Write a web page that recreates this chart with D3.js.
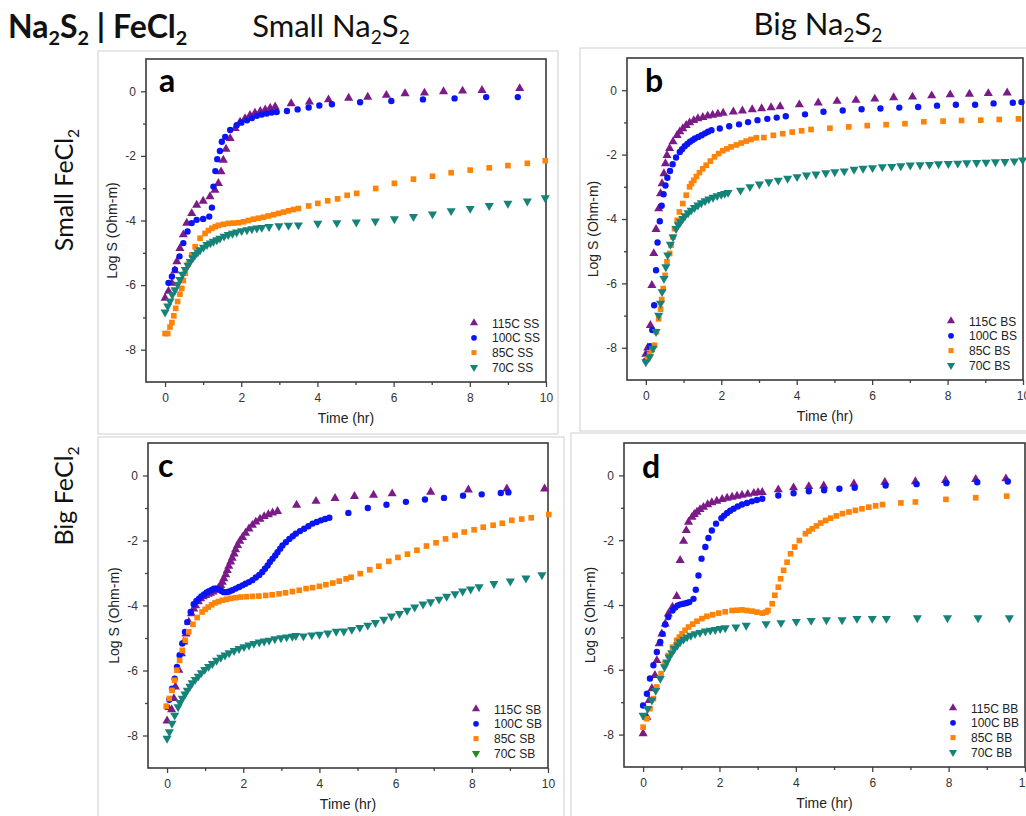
<!DOCTYPE html>
<html>
<head>
<meta charset="utf-8">
<script src="https://cdn.jsdelivr.net/npm/d3@7"></script>
<style>
  body { margin: 0; background: #fff; }
  svg { display: block; }
  .tick text { font-family: "Liberation Sans", Arial, sans-serif; font-size: 12px; fill: #333; }
  .tick line { stroke: #444; }
</style>
</head>
<body>
<div id="figure"></div>
<script>
// axis ticks
const timeTicks = [0, 2, 4, 6, 8, 10];
const timeMinor = [1, 3, 5, 7, 9];
const logTicks = [0, -2, -4, -6, -8];
const logMinor = [-1, -3, -5, -7];
const temps = ["115C", "100C", "85C", "70C"];

// a: small FeCl2 / small Na2S2  (time hr, log S)
const ss115 = [[0,-6.4],[0.09,-6.19],[0.18,-5.94],[0.26,-5.55],[0.31,-5.27],[0.39,-4.86],[0.48,-4.44],[0.57,-4.08],[0.7,-3.78],[0.83,-3.52],[1.0,-3.4],[1.18,-3.26],[1.31,-3.06],[1.4,-2.85],[1.47,-2.49],[1.53,-2.13],[1.6,-1.79],[1.71,-1.46],[1.84,-1.15],[1.97,-0.95],[2.1,-0.84],[2.23,-0.74],[2.36,-0.67],[2.5,-0.62],[2.63,-0.57],[2.76,-0.52],[2.89,-0.48],
  [3.31,-0.38],[3.79,-0.33],[4.29,-0.26],[4.82,-0.21],[5.32,-0.18],[5.81,-0.12],[6.3,-0.07],[6.81,-0.05],[7.31,-0.01],[7.81,0.01],[8.32,0.03],[9.31,0.09]];
const ss100 = [[0.09,-5.93],[0.18,-5.73],[0.26,-5.52],[0.38,-5.11],[0.48,-4.7],[0.59,-4.34],[0.7,-4.08],[0.83,-3.98],[1.0,-3.95],[1.16,-3.88],[1.23,-3.6],[1.27,-2.95],[1.32,-2.47],[1.37,-2.1],[1.44,-1.85],[1.49,-1.56],[1.58,-1.41],[1.71,-1.2],[1.88,-1.05],[2.0,-0.97],[2.15,-0.9],[2.28,-0.83],[2.41,-0.76],[2.54,-0.72],[2.67,-0.69],[2.8,-0.66],[2.93,-0.64],
  [3.2,-0.61],[3.48,-0.56],[3.77,-0.5],[4.05,-0.44],[4.38,-0.4],[5.12,-0.34],[5.94,-0.3],[6.77,-0.25],[7.6,-0.22],[8.43,-0.18],[9.26,-0.18]];
const ss85 = [[0,-7.5],[0.07,-7.5],[0.13,-7.3],[0.18,-7.16],[0.23,-6.95],[0.28,-6.72],[0.33,-6.51],[0.39,-6.28],[0.44,-6.1],[0.48,-5.86],[0.53,-5.63],[0.61,-5.35],[0.7,-5.07],[0.79,-4.81],[0.92,-4.55],[1.05,-4.4],[1.14,-4.31],[1.23,-4.24],[1.32,-4.19],[1.4,-4.15],[1.53,-4.12],[1.66,-4.09],[1.79,-4.08],[1.93,-4.07],[2.06,-4.04],[2.19,-4.0],[2.32,-3.96],[2.45,-3.93],[2.58,-3.9],[2.71,-3.86],[2.85,-3.82],[2.98,-3.78],[3.11,-3.74],[3.24,-3.7],[3.37,-3.66],[3.5,-3.63],
  [3.77,-3.55],[4.01,-3.47],[4.27,-3.39],[4.53,-3.33],[4.78,-3.22],[5.03,-3.16],[5.53,-3.01],[6.02,-2.85],[6.52,-2.72],[7.02,-2.63],[7.51,-2.52],[8.01,-2.44],[8.51,-2.37],[9.0,-2.3],[9.51,-2.23],[9.98,-2.15]];
const ss70 = [[0,-6.84],[0.07,-6.65],[0.13,-6.5],[0.19,-6.3],[0.26,-6.15],[0.33,-5.98],[0.39,-5.83],[0.46,-5.67],[0.53,-5.52],[0.6,-5.39],[0.66,-5.27],[0.73,-5.16],[0.79,-5.06],[0.86,-4.98],[0.92,-4.91],[1.01,-4.83],[1.1,-4.75],[1.19,-4.7],[1.27,-4.65],[1.36,-4.6],[1.44,-4.55],[1.55,-4.49],[1.66,-4.44],[1.77,-4.4],[1.88,-4.36],[2.01,-4.32],[2.15,-4.29],[2.28,-4.26],[2.41,-4.24],[2.54,-4.22],
  [2.73,-4.19],[2.99,-4.17],[3.24,-4.15],[3.5,-4.14],[4.01,-4.09],[4.51,-4.07],[5.02,-4.05],[5.52,-4.02],[6.02,-3.95],[6.52,-3.88],[7.02,-3.8],[7.51,-3.7],[8.01,-3.63],[8.51,-3.54],[9.0,-3.47],[9.51,-3.4],[9.98,-3.3]];

// b: small FeCl2 / big Na2S2
const bs115 = [[0,-8.2],[0.05,-8.0],[0.12,-7.3],[0.16,-6.06],[0.21,-5.07],[0.27,-4.32],[0.34,-3.68],[0.39,-3.21],[0.43,-2.9],[0.48,-2.59],[0.52,-2.28],[0.56,-2.02],[0.63,-1.81],[0.72,-1.6],[0.83,-1.4],[0.9,-1.29],[0.98,-1.19],[1.07,-1.09],[1.16,-1.01],[1.27,-0.94],[1.38,-0.88],[1.51,-0.84],[1.64,-0.8],[1.77,-0.77],[1.91,-0.74],[2.05,-0.71],
  [2.32,-0.67],[2.56,-0.64],[2.82,-0.6],[3.07,-0.57],[3.32,-0.54],[3.56,-0.51],[4.07,-0.45],[4.57,-0.39],[5.07,-0.34],[5.57,-0.31],[6.07,-0.27],[6.57,-0.23],[7.07,-0.21],[7.58,-0.17],[8.07,-0.14],[8.58,-0.12],[9.08,-0.1],[9.58,-0.08]];
const bs100 = [[0,-8.4],[0.06,-8.2],[0.11,-7.95],[0.17,-7.45],[0.22,-6.68],[0.27,-5.59],[0.31,-4.73],[0.37,-4.07],[0.42,-3.59],[0.47,-3.23],[0.52,-2.96],[0.57,-2.72],[0.64,-2.51],[0.71,-2.3],[0.8,-2.09],[0.9,-1.92],[0.96,-1.83],[1.03,-1.74],[1.1,-1.67],[1.17,-1.6],[1.24,-1.55],[1.3,-1.5],[1.39,-1.45],[1.48,-1.4],[1.57,-1.34],[1.65,-1.29],[1.74,-1.24],
  [1.96,-1.19],[2.21,-1.12],[2.47,-1.06],[2.71,-0.99],[2.96,-0.93],[3.22,-0.89],[3.47,-0.85],[3.71,-0.81],[4.22,-0.75],[4.71,-0.67],[5.22,-0.63],[5.72,-0.59],[6.22,-0.57],[6.72,-0.54],[7.22,-0.52],[7.72,-0.48],[8.22,-0.45],[8.73,-0.45],[9.22,-0.41],[9.73,-0.39],[9.96,-0.37]];
const bs85 = [[0.04,-8.35],[0.1,-8.2],[0.17,-8.05],[0.23,-7.92],[0.28,-7.5],[0.34,-7.1],[0.39,-6.8],[0.42,-6.5],[0.46,-6.16],[0.51,-5.75],[0.56,-5.33],[0.63,-5.07],[0.67,-4.81],[0.72,-4.56],[0.76,-4.3],[0.83,-4.04],[0.89,-3.78],[0.98,-3.52],[1.07,-3.26],[1.16,-3.0],[1.21,-2.9],[1.27,-2.8],[1.34,-2.68],[1.42,-2.56],[1.51,-2.44],[1.6,-2.33],[1.71,-2.2],[1.82,-2.07],[1.93,-1.97],[2.04,-1.88],[2.15,-1.82],[2.26,-1.76],[2.4,-1.7],[2.53,-1.64],[2.66,-1.58],[2.79,-1.53],[2.93,-1.48],
  [3.13,-1.47],[3.38,-1.4],[3.63,-1.35],[3.88,-1.3],[4.13,-1.26],[4.38,-1.22],[4.88,-1.18],[5.38,-1.14],[5.87,-1.1],[6.37,-1.07],[6.87,-1.04],[7.37,-0.98],[7.88,-0.96],[8.37,-0.94],[8.88,-0.93],[9.37,-0.91],[9.88,-0.89]];
const bs70 = [[0,-8.44],[0.1,-8.28],[0.19,-8.02],[0.27,-7.5],[0.34,-6.99],[0.39,-6.62],[0.43,-6.26],[0.48,-5.85],[0.53,-5.49],[0.58,-5.12],[0.65,-4.79],[0.72,-4.56],[0.8,-4.3],[0.86,-4.18],[0.92,-4.09],[0.98,-3.99],[1.04,-3.9],[1.12,-3.81],[1.2,-3.73],[1.29,-3.65],[1.38,-3.57],[1.47,-3.5],[1.57,-3.44],[1.67,-3.38],[1.78,-3.33],[1.89,-3.28],[2.0,-3.24],[2.09,-3.21],[2.18,-3.18],
  [2.51,-3.11],[2.76,-3.0],[3.01,-2.92],[3.26,-2.85],[3.51,-2.8],[3.76,-2.74],[4.01,-2.69],[4.26,-2.64],[4.51,-2.61],[4.77,-2.57],[5.01,-2.54],[5.26,-2.51],[5.52,-2.46],[5.76,-2.43],[6.01,-2.41],[6.27,-2.38],[6.52,-2.37],[6.76,-2.35],[7.01,-2.33],[7.27,-2.32],[7.52,-2.31],[7.76,-2.29],[8.02,-2.28],[8.27,-2.27],[8.51,-2.26],[8.77,-2.25],[9.02,-2.24],[9.27,-2.23],[9.52,-2.22],[9.77,-2.2],[9.99,-2.17]];

// c: big FeCl2 / small Na2S2
const sb115 = [[0,-7.55],[0.12,-7.2],[0.18,-6.86],[0.22,-6.5],[0.31,-5.99],[0.38,-5.48],[0.44,-5.12],[0.5,-4.87],[0.57,-4.51],[0.64,-4.25],[0.7,-4.1],[0.75,-4.0],[0.82,-3.88],[0.88,-3.79],[0.95,-3.73],[1.01,-3.69],[1.08,-3.65],[1.14,-3.62],[1.21,-3.58],[1.28,-3.53],[1.35,-3.46],[1.41,-3.38],[1.45,-3.28],[1.49,-3.17],[1.54,-3.05],[1.58,-2.92],[1.62,-2.79],[1.67,-2.66],[1.71,-2.54],[1.76,-2.41],[1.8,-2.28],[1.85,-2.15],[1.91,-2.02],[1.98,-1.9],[2.06,-1.77],[2.15,-1.64],[2.24,-1.53],[2.33,-1.43],[2.44,-1.34],[2.55,-1.26],[2.66,-1.2],[2.77,-1.15],[2.9,-1.1],
  [3.4,-0.91],[3.91,-0.79],[4.41,-0.7],[4.92,-0.64],[5.42,-0.6],[5.91,-0.56],[6.92,-0.51],[7.91,-0.44],[8.92,-0.41],[9.91,-0.41]];
const sb100 = [[0,-7.12],[0.06,-6.9],[0.13,-6.56],[0.2,-6.25],[0.26,-5.89],[0.33,-5.53],[0.4,-5.17],[0.47,-4.81],[0.53,-4.51],[0.62,-4.2],[0.7,-3.96],[0.77,-3.86],[0.84,-3.79],[0.9,-3.72],[0.97,-3.66],[1.04,-3.6],[1.1,-3.56],[1.17,-3.52],[1.23,-3.48],[1.3,-3.48],[1.36,-3.51],[1.43,-3.55],[1.49,-3.59],[1.56,-3.59],[1.63,-3.57],[1.71,-3.53],[1.8,-3.48],[1.89,-3.43],[1.98,-3.38],[2.06,-3.33],[2.15,-3.28],[2.24,-3.22],[2.33,-3.14],[2.42,-3.06],[2.5,-2.97],[2.57,-2.87],[2.64,-2.77],[2.7,-2.66],[2.77,-2.56],[2.84,-2.46],[2.9,-2.36],[2.97,-2.25],[3.03,-2.15],[3.12,-2.05],[3.21,-1.95],[3.3,-1.87],[3.38,-1.79],[3.49,-1.71],[3.6,-1.64],[3.71,-1.56],[3.82,-1.48],[3.93,-1.43],[4.04,-1.38],[4.15,-1.34],[4.26,-1.3],
  [4.76,-1.15],[5.27,-1.0],[5.76,-0.9],[6.27,-0.81],[6.77,-0.74],[7.27,-0.69],[7.77,-0.62],[8.26,-0.58],[8.76,-0.54],[8.96,-0.52]];
const sb85 = [[-0.02,-7.1],[0.06,-6.86],[0.13,-6.61],[0.2,-6.3],[0.26,-5.99],[0.33,-5.69],[0.4,-5.38],[0.48,-5.07],[0.57,-4.81],[0.68,-4.58],[0.79,-4.37],[0.92,-4.2],[1.0,-4.12],[1.08,-4.05],[1.17,-3.98],[1.26,-3.92],[1.35,-3.88],[1.45,-3.84],[1.56,-3.81],[1.67,-3.78],[1.8,-3.76],[1.93,-3.74],[2.08,-3.73],[2.24,-3.72],[2.41,-3.71],[2.59,-3.69],[2.76,-3.67],[2.94,-3.64],[3.11,-3.61],[3.29,-3.57],[3.47,-3.53],[3.65,-3.48],[3.82,-3.45],[4.0,-3.41],[4.17,-3.36],[4.35,-3.31],[4.52,-3.25],[4.7,-3.18],[4.83,-3.13],
  [5.07,-3.02],[5.32,-2.9],[5.56,-2.79],[5.82,-2.64],[6.06,-2.52],[6.31,-2.42],[6.56,-2.3],[6.81,-2.17],[7.06,-2.07],[7.31,-1.95],[7.56,-1.84],[7.8,-1.74],[8.06,-1.67],[8.3,-1.59],[8.56,-1.53],[8.8,-1.47],[9.05,-1.38],[9.31,-1.34],[9.56,-1.3],[10.02,-1.2]];
const sb70 = [[0,-8.09],[0.06,-7.89],[0.13,-7.63],[0.2,-7.38],[0.29,-7.12],[0.34,-6.99],[0.4,-6.86],[0.47,-6.73],[0.53,-6.61],[0.6,-6.49],[0.66,-6.38],[0.74,-6.28],[0.82,-6.18],[0.9,-6.07],[0.99,-5.97],[1.09,-5.88],[1.19,-5.79],[1.3,-5.69],[1.41,-5.6],[1.52,-5.53],[1.63,-5.46],[1.76,-5.39],[1.89,-5.33],[2.02,-5.27],[2.15,-5.22],[2.28,-5.17],[2.42,-5.13],[2.55,-5.1],[2.68,-5.07],[2.83,-5.03],[2.99,-5.0],[3.14,-4.97],[3.29,-4.95],[3.38,-4.93],
  [3.58,-4.94],[3.8,-4.91],[4.0,-4.89],[4.22,-4.85],[4.44,-4.8],[4.64,-4.79],[4.85,-4.74],[5.06,-4.68],[5.27,-4.61],[5.47,-4.53],[5.69,-4.43],[5.89,-4.33],[6.1,-4.25],[6.3,-4.15],[6.5,-4.05],[6.72,-3.96],[6.92,-3.89],[7.14,-3.81],[7.34,-3.72],[7.56,-3.64],[7.76,-3.56],[7.97,-3.5],[8.19,-3.43],[8.58,-3.33],[9.01,-3.25],[9.42,-3.16],[9.84,-3.06]];

// d: big FeCl2 / big Na2S2
const bb115 = [[0,-7.97],[0.1,-7.46],[0.16,-6.94],[0.23,-6.58],[0.31,-6.17],[0.36,-5.71],[0.42,-5.19],[0.49,-4.89],[0.58,-4.58],[0.66,-4.27],[0.77,-4.06],[0.88,-3.73],[0.97,-2.62],[1.06,-2.03],[1.13,-1.7],[1.19,-1.44],[1.28,-1.29],[1.34,-1.2],[1.41,-1.13],[1.49,-1.05],[1.58,-0.98],[1.69,-0.9],[1.8,-0.84],[1.93,-0.79],[2.07,-0.74],[2.2,-0.7],[2.33,-0.67],[2.46,-0.64],[2.59,-0.61],[2.74,-0.58],[2.9,-0.55],[3.01,-0.53],[3.12,-0.52],
  [3.54,-0.44],[3.94,-0.38],[4.34,-0.34],[4.73,-0.32],[5.52,-0.26],[6.33,-0.21],[7.13,-0.19],[7.92,-0.15],[8.71,-0.12],[9.5,-0.1]];
const bb100 = [[0,-7.1],[0.1,-6.74],[0.18,-6.27],[0.27,-5.86],[0.36,-5.45],[0.45,-5.14],[0.51,-4.89],[0.58,-4.6],[0.66,-4.37],[0.77,-4.17],[0.84,-4.08],[0.91,-4.01],[0.98,-3.98],[1.06,-3.96],[1.14,-3.94],[1.21,-3.91],[1.32,-3.81],[1.38,-3.53],[1.45,-3.09],[1.53,-2.57],[1.63,-2.21],[1.71,-1.93],[1.8,-1.7],[1.91,-1.49],[2.05,-1.32],[2.12,-1.24],[2.2,-1.16],[2.28,-1.09],[2.37,-1.03],[2.48,-0.96],[2.59,-0.9],[2.72,-0.85],[2.85,-0.8],[2.98,-0.76],[3.12,-0.72],
  [3.54,-0.62],[3.94,-0.55],[4.34,-0.49],[4.74,-0.46],[5.14,-0.41],[5.54,-0.38],[6.35,-0.31],[7.16,-0.27],[7.94,-0.24],[8.75,-0.21],[9.55,-0.19]];
const bb85 = [[0,-7.77],[0.1,-7.51],[0.18,-7.2],[0.27,-6.89],[0.36,-6.53],[0.47,-6.12],[0.56,-5.81],[0.66,-5.56],[0.77,-5.3],[0.88,-5.09],[0.95,-4.99],[1.02,-4.89],[1.1,-4.78],[1.19,-4.68],[1.3,-4.59],[1.41,-4.5],[1.54,-4.42],[1.67,-4.35],[1.82,-4.3],[1.98,-4.25],[2.15,-4.21],[2.33,-4.17],[2.46,-4.16],[2.59,-4.15],[2.72,-4.17],[2.85,-4.19],[2.98,-4.22],[3.12,-4.25],[3.22,-4.22],[3.27,-4.17],[3.38,-3.96],[3.45,-3.7],[3.54,-3.45],[3.6,-3.19],[3.68,-2.93],[3.77,-2.68],[3.86,-2.42],[3.97,-2.21],[4.09,-2.01],[4.25,-1.8],[4.34,-1.72],[4.43,-1.65],[4.54,-1.56],[4.65,-1.47],[4.78,-1.39],[4.91,-1.32],[5.06,-1.25],[5.22,-1.18],[5.39,-1.13],[5.56,-1.08],[5.73,-1.03],[5.91,-0.98],[6.09,-0.94],[6.27,-0.9],
  [6.75,-0.85],[7.13,-0.82],[7.93,-0.74],[8.71,-0.69],[9.52,-0.64]];
const bb70 = [[0,-7.41],[0.12,-7.2],[0.23,-6.94],[0.33,-6.64],[0.45,-6.27],[0.56,-5.91],[0.62,-5.76],[0.68,-5.61],[0.75,-5.48],[0.82,-5.35],[0.9,-5.24],[0.97,-5.14],[1.06,-5.06],[1.15,-4.99],[1.25,-4.94],[1.36,-4.89],[1.49,-4.85],[1.63,-4.81],[1.76,-4.78],[1.89,-4.76],[2.02,-4.73],[2.15,-4.71],
  [2.43,-4.68],[2.7,-4.63],[3.22,-4.58],[3.61,-4.55],[4.01,-4.51],[4.4,-4.48],[4.8,-4.46],[5.21,-4.46],[5.6,-4.42],[6.0,-4.42],[6.37,-4.42],[7.18,-4.4],[7.97,-4.4],[8.77,-4.4],[9.59,-4.4]];

// marker styles, one per temperature
const colors = ["#7b1b88", "#0a14f5", "#ff8307", "#168379"];
const shapes = [d3.symbolTriangle, d3.symbolCircle, d3.symbolSquare, d3.symbolTriangle];
const areas = [36, 32, 32, 36];
const turns = [0, 0, 0, 180];

const panels = [
  { letter: "a", code: "SS", series: [ss115, ss100, ss85, ss70], left: 146, top: 59, right: 546, bottom: 382, frame: [98, 51, 558, 434], lx: 159, ly: 92 },
  { letter: "b", code: "BS", series: [bs115, bs100, bs85, bs70], left: 627, top: 58, right: 1023, bottom: 380, frame: [580, 48, 1040, 431], lx: 645, ly: 92 },
  { letter: "c", code: "SB", series: [sb115, sb100, sb85, sb70], left: 148, top: 443, right: 548, bottom: 768, frame: [98, 437, 564, 830], lx: 158, ly: 477, green: true },
  { letter: "d", code: "BB", series: [bb115, bb100, bb85, bb70], left: 624, top: 443, right: 1025, bottom: 767, frame: [571, 433, 1040, 830], lx: 642, ly: 478 }
];

const svg = d3.select("#figure").append("svg")
  .attr("width", 1026)
  .attr("height", 816);

// text with subscripts: parts = [[text, isSub], ...]
function richText(sel, parts, size) {
  parts.forEach(([t, sub], i) => {
    const ts = sel.append("tspan").text(t);
    if (sub) ts.attr("font-size", size * 0.62).attr("dy", size * 0.22);
    else if (i > 0 && parts[i - 1][1]) ts.attr("dy", -size * 0.22);
  });
  return sel;
}

const headFont = "Lato, 'Open Sans', sans-serif";

richText(svg.append("text").attr("x", 8).attr("y", 38).style("white-space", "pre")
    .attr("font-family", headFont).attr("font-weight", "bold").attr("font-size", 32).attr("fill", "#111"),
  [["Na", false], ["2", true], ["S", false], ["2", true], [" | FeCl", false], ["2", true]], 32);

richText(svg.append("text").attr("x", 331).attr("y", 37).attr("text-anchor", "middle")
    .attr("font-family", headFont).attr("font-size", 31).attr("fill", "#111"),
  [["Small Na", false], ["2", true], ["S", false], ["2", true]], 31);

richText(svg.append("text").attr("x", 818).attr("y", 35).attr("text-anchor", "middle")
    .attr("font-family", headFont).attr("font-size", 31).attr("fill", "#111"),
  [["Big Na", false], ["2", true], ["S", false], ["2", true]], 31);

richText(svg.append("text").attr("transform", "translate(73,190) rotate(-90)").attr("text-anchor", "middle")
    .attr("font-family", headFont).attr("font-size", 25).attr("fill", "#111"),
  [["Small FeCl", false], ["2", true]], 25);

richText(svg.append("text").attr("transform", "translate(73,496) rotate(-90)").attr("text-anchor", "middle")
    .attr("font-family", headFont).attr("font-size", 25).attr("fill", "#111"),
  [["Big FeCl", false], ["2", true]], 25);

panels.forEach(p => {
  const g = svg.append("g");

  // picture border around each panel
  g.append("rect")
    .attr("x", p.frame[0]).attr("y", p.frame[1])
    .attr("width", p.frame[2] - p.frame[0]).attr("height", p.frame[3] - p.frame[1])
    .attr("fill", "#fff").attr("stroke", "#cfcfcf").attr("stroke-width", 1);

  const x = d3.scaleLinear().domain([-0.5, 10]).range([p.left, p.right]);
  const y = d3.scaleLinear().domain([-9, 1]).range([p.bottom, p.top]);

  // major + minor ticks
  g.append("g").attr("transform", `translate(0,${p.bottom})`)
    .call(d3.axisBottom(x).tickValues(timeTicks).tickFormat(d => String(d)).tickSize(5).tickSizeOuter(0).tickPadding(6))
    .call(a => a.select(".domain").remove());
  g.append("g").attr("transform", `translate(0,${p.bottom})`)
    .call(d3.axisBottom(x).tickValues(timeMinor).tickFormat("").tickSize(3).tickSizeOuter(0))
    .call(a => a.select(".domain").remove());
  g.append("g").attr("transform", `translate(${p.left},0)`)
    .call(d3.axisLeft(y).tickValues(logTicks).tickFormat(d => String(d)).tickSize(5).tickSizeOuter(0).tickPadding(5))
    .call(a => a.select(".domain").remove());
  g.append("g").attr("transform", `translate(${p.left},0)`)
    .call(d3.axisLeft(y).tickValues(logMinor).tickFormat("").tickSize(3).tickSizeOuter(0))
    .call(a => a.select(".domain").remove());

  g.selectAll(".tick line").attr("stroke-width", 1.3);

  // plot box
  g.append("rect")
    .attr("x", p.left).attr("y", p.top)
    .attr("width", p.right - p.left).attr("height", p.bottom - p.top)
    .attr("fill", "none").attr("stroke", "#3a3a3a").attr("stroke-width", 1.6);

  // axis titles
  g.append("text")
    .attr("transform", `translate(${p.left - 29},${(p.top + p.bottom) / 2 + 10}) rotate(-90)`)
    .attr("text-anchor", "middle")
    .attr("font-family", "'Liberation Sans', Arial, sans-serif").attr("font-size", 14).attr("fill", "#222")
    .text("Log S (Ohm-m)");
  g.append("text")
    .attr("x", (p.left + p.right) / 2).attr("y", p.bottom + 41)
    .attr("text-anchor", "middle")
    .attr("font-family", "'Liberation Sans', Arial, sans-serif").attr("font-size", 14).attr("fill", "#222")
    .text("Time (hr)");

  // panel letter
  g.append("text")
    .attr("x", p.lx).attr("y", p.ly)
    .attr("font-family", headFont).attr("font-weight", "bold").attr("font-size", 32).attr("fill", "#000")
    .text(p.letter);

  // data markers
  p.series.forEach((data, i) => {
    const sym = d3.symbol().type(shapes[i]).size(areas[i]);
    g.append("g").selectAll("path")
      .data(data)
      .enter().append("path")
      .attr("d", sym)
      .attr("transform", d => `translate(${x(d[0])},${y(d[1])}) rotate(${turns[i]})`)
      .attr("fill", colors[i]);
  });

  // legend
  temps.forEach((t, i) => {
    const ly = p.bottom - 59 + i * 14.8;
    const fill = (p.green && i === 3) ? "#1f8a1f" : colors[i];
    g.append("path")
      .attr("d", d3.symbol().type(shapes[i]).size(areas[i] * 0.8))
      .attr("transform", `translate(${p.right - 72},${ly}) rotate(${turns[i]})`)
      .attr("fill", fill);
    g.append("text")
      .attr("x", p.right - 54).attr("y", ly + 4.5)
      .attr("font-family", "'Liberation Sans', Arial, sans-serif").attr("font-size", 12).attr("fill", "#222")
      .text(`${t} ${p.code}`);
  });
});
</script>
</body>
</html>
